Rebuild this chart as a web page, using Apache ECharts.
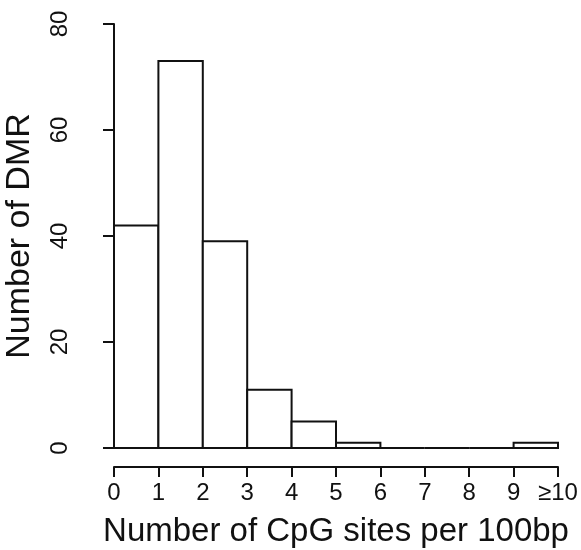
<!DOCTYPE html>
<html>
<head>
<meta charset="utf-8">
<script src="https://cdn.jsdelivr.net/npm/echarts@6/dist/echarts.min.js"></script>
<style>
  html, body { margin: 0; padding: 0; background: #fff; }
  #chart { width: 581px; height: 550px; }
</style>
</head>
<body>
<div id="chart"></div>
<script>
// Histogram bins: lower edges of each 1-unit bin, and the count in each bin
const binStarts = [0, 1, 2, 3, 4, 5, 6, 7, 8, 9];
const counts = [42, 73, 39, 11, 5, 1, 0, 0, 0, 1];
const xTickLabels = ['0', '1', '2', '3', '4', '5', '6', '7', '8', '9', '\u226510'];
const yTicks = [0, 20, 40, 60, 80];

const binData = binStarts.map((s, i) => [s, s + 1, counts[i]]);

const chart = echarts.init(document.getElementById('chart'));
const font = 'Liberation Sans, Arial, sans-serif';
const ink = '#111';
const lw = 2;

chart.setOption({
  animation: false,
  backgroundColor: '#fff',
  grid: {
    left: 114, right: 23, top: 24, bottom: 102,
    containLabel: false, outerBoundsMode: 'none'
  },
  xAxis: {
    type: 'value',
    min: 0, max: 10, interval: 1,
    offset: 19,
    name: 'Number of CpG sites per 100bp',
    nameLocation: 'middle',
    nameGap: 65,
    nameMoveOverlap: false,
    nameTextStyle: { fontFamily: font, fontSize: 33, color: ink, verticalAlign: 'middle' },
    axisLine: { show: true, onZero: false, lineStyle: { color: ink, width: lw } },
    axisTick: { show: true, length: 10, lineStyle: { color: ink, width: lw } },
    axisLabel: {
      fontFamily: font, fontSize: 24, color: ink, margin: 14,
      formatter: v => xTickLabels[Math.round(v)]
    },
    splitLine: { show: false }
  },
  yAxis: {
    type: 'value',
    min: 0, max: 80, interval: 20,
    offset: 18,
    name: 'Number of DMR',
    nameLocation: 'middle',
    nameGap: 59,
    nameMoveOverlap: false,
    nameTextStyle: { fontFamily: font, fontSize: 34, color: ink },
    axisLine: { show: true, lineStyle: { color: ink, width: lw } },
    axisTick: { show: true, length: 11, lineStyle: { color: ink, width: lw } },
    axisLabel: {
      fontFamily: font, fontSize: 24, color: ink, margin: 24, rotate: 90,
      formatter: v => yTicks.includes(v) ? String(v) : ''
    },
    splitLine: { show: false }
  },
  series: [{
    type: 'custom',
    data: binData,
    encode: { x: [0, 1], y: 2 },
    renderItem: (params, api) => {
      const p0 = api.coord([api.value(0), 0]);
      const p1 = api.coord([api.value(1), api.value(2)]);
      return {
        type: 'rect',
        shape: { x: p0[0], y: p1[1], width: p1[0] - p0[0], height: p0[1] - p1[1] },
        style: { fill: '#fff', stroke: ink, lineWidth: lw }
      };
    }
  }]
});
</script>
</body>
</html>
